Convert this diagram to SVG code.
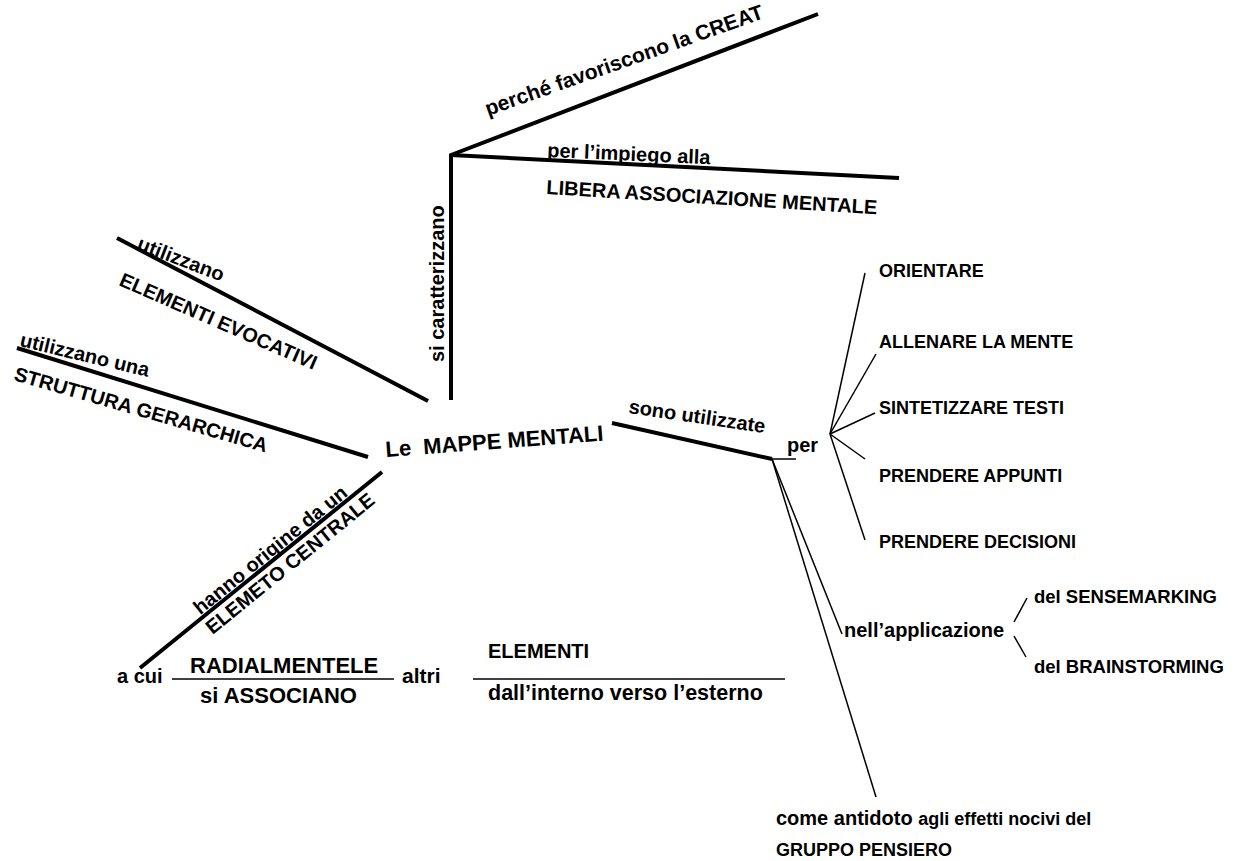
<svg xmlns="http://www.w3.org/2000/svg" width="1241" height="861" viewBox="0 0 1241 861">
  <style>
    text { font-family: "Liberation Sans", Arial, sans-serif; font-weight: bold; fill: #000; font-size: 20px; }
    .thick { stroke: #000; stroke-width: 4; fill: none; stroke-linejoin: miter; }
    .thin { stroke: #000; stroke-width: 1.5; fill: none; }
    .col { font-size: 18px; }
  </style>
  <rect width="1241" height="861" fill="#fff"/>

  <!-- connectors -->
  <g id="connectors">
    <polyline class="thick" points="451,400 451,155 818,14"/>
    <line class="thick" x1="451" y1="155" x2="899" y2="178"/>
    <line class="thick" x1="117" y1="238" x2="428" y2="401"/>
    <line class="thick" x1="17" y1="348" x2="368" y2="457"/>
    <line class="thick" x1="140" y1="668" x2="382" y2="472"/>
    <line class="thick" x1="612" y1="423" x2="772" y2="459"/>
    <line class="thin" x1="772" y1="459" x2="796" y2="459"/>
    <line class="thin" x1="772" y1="459" x2="842" y2="634"/>
    <line class="thin" x1="772" y1="459" x2="876" y2="797"/>
    <line class="thin" x1="830" y1="434" x2="865" y2="273"/>
    <line class="thin" x1="830" y1="434" x2="876" y2="354"/>
    <line class="thin" x1="830" y1="434" x2="875" y2="413"/>
    <line class="thin" x1="830" y1="434" x2="865" y2="459"/>
    <line class="thin" x1="830" y1="434" x2="865" y2="540"/>
    <line class="thin" x1="1014" y1="622" x2="1027" y2="598"/>
    <line class="thin" x1="1014" y1="636" x2="1026" y2="657"/>
    <line class="thin" x1="172" y1="679" x2="394" y2="679"/>
    <line class="thin" x1="473" y1="679" x2="785" y2="679"/>
  </g>

  <!-- central concept -->
  <g id="centro">
    <text x="386" y="457" transform="rotate(-4.3 386 457)" xml:space="preserve" style="font-size:22px">Le  MAPPE MENTALI</text>
  </g>

  <g id="caratteristiche">
    <text transform="translate(444,362) rotate(-90)">si caratterizzano</text>
    <text transform="translate(488,116) rotate(-19.5)" style="font-size:21px">perché favoriscono la CREAT</text>
    <text transform="translate(547,157) rotate(2.5)">per l’impiego alla</text>
    <text transform="translate(546,194) rotate(3.5)">LIBERA ASSOCIAZIONE MENTALE</text>
  </g>

  <g id="evocativi">
    <text transform="translate(136,249) rotate(21)">utilizzano</text>
    <text transform="translate(118,285) rotate(23.5)">ELEMENTI EVOCATIVI</text>
  </g>

  <g id="gerarchia">
    <text transform="translate(19,346) rotate(13.5)">utilizzano una</text>
    <text transform="translate(13,380) rotate(16)">STRUTTURA GERARCHICA</text>
  </g>

  <g id="origine">
    <g transform="translate(140,668) rotate(-39)">
      <text x="80" y="-3">hanno origine da un</text>
      <text x="77" y="20">ELEMETO CENTRALE</text>
    </g>
  </g>

  <g id="associazione">
    <text x="117" y="683">a cui</text>
    <text x="190" y="673" style="font-size:22px">RADIALMENTELE</text>
    <text x="200" y="703" style="font-size:22px">si ASSOCIANO</text>
    <text x="402" y="683" style="font-size:21px">altri</text>
    <text x="488" y="658">ELEMENTI</text>
    <text x="488" y="700" style="font-size:21.5px">dall’interno verso l’esterno</text>
  </g>

  <g id="utilizzo">
    <text transform="translate(628,413) rotate(8.4)">sono utilizzate</text>
    <text x="787" y="452">per</text>
  </g>

  <g id="scopi">
    <text class="col" x="879" y="277">ORIENTARE</text>
    <text class="col" x="879" y="348">ALLENARE LA MENTE</text>
    <text class="col" x="879" y="414">SINTETIZZARE TESTI</text>
    <text class="col" x="879" y="482">PRENDERE APPUNTI</text>
    <text class="col" x="879" y="548">PRENDERE DECISIONI</text>
  </g>

  <g id="applicazione">
    <text x="844" y="637">nell’applicazione</text>
    <text x="1034" y="603" style="font-size:18.5px">del SENSEMARKING</text>
    <text x="1034" y="673" style="font-size:18.5px">del BRAINSTORMING</text>
  </g>

  <g id="antidoto">
    <text x="776" y="825">come antidoto <tspan style="font-size:18px">agli effetti nocivi del</tspan></text>
    <text x="776" y="856" style="font-size:18px">GRUPPO PENSIERO</text>
  </g>
</svg>
